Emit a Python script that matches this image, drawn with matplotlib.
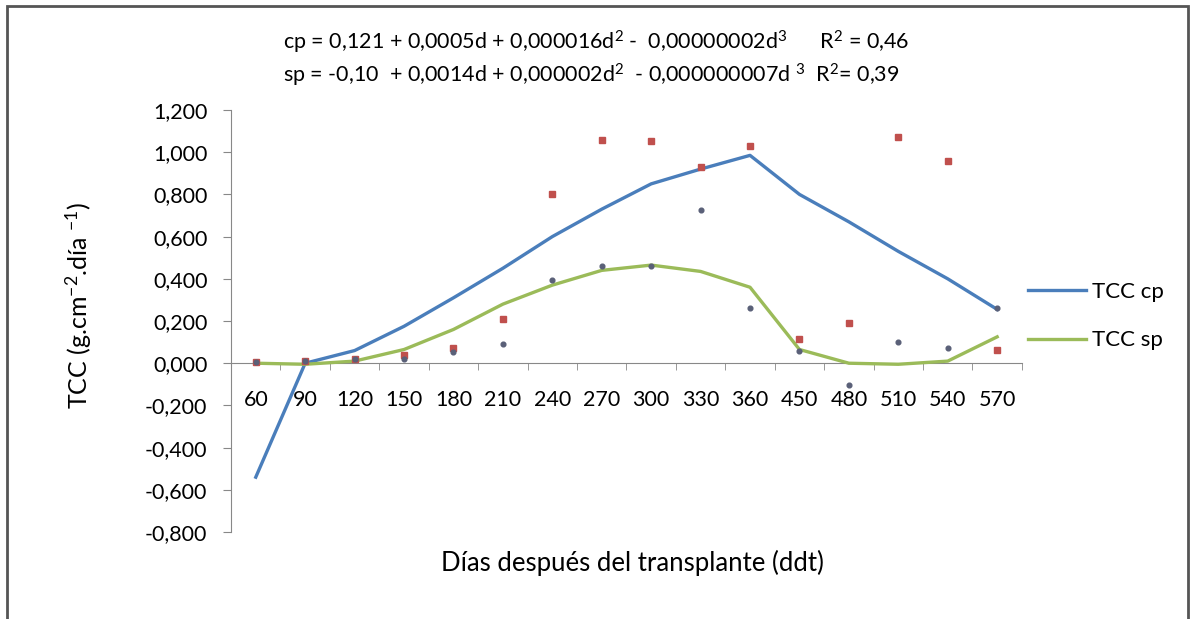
import numpy as np
import matplotlib
matplotlib.use("Agg")
import matplotlib.pyplot as plt
from matplotlib.patches import Rectangle
from matplotlib.ticker import FuncFormatter, FixedLocator

plt.rcParams['font.family'] = ['Lato', 'DejaVu Sans']
plt.rcParams['mathtext.fontset'] = 'custom'
plt.rcParams['mathtext.rm'] = 'Lato'
plt.rcParams['mathtext.it'] = 'Lato'

# dias despues del transplante (categorias)
dias = ['60', '90', '120', '150', '180', '210', '240', '270', '300', '330',
        '360', '450', '480', '510', '540', '570']
# curvas ajustadas
tcc_cp = [-0.54, 0.00, 0.06, 0.175, 0.31, 0.45, 0.60, 0.73, 0.85, 0.92,
          0.985, 0.80, 0.67, 0.53, 0.40, 0.255]
tcc_sp = [0.00, -0.005, 0.01, 0.065, 0.16, 0.28, 0.37, 0.44, 0.465, 0.435,
          0.36, 0.065, 0.00, -0.005, 0.01, 0.125]
# datos observados
obs_cp = [0.005, 0.01, 0.02, 0.04, 0.07, 0.21, 0.80, 1.06, 1.055, 0.93,
          1.03, 0.115, 0.19, 1.07, 0.96, 0.065]
obs_sp = [0.005, 0.01, 0.02, 0.02, 0.055, 0.09, 0.395, 0.46, 0.46, 0.725,
          0.26, 0.06, -0.105, 0.10, 0.07, 0.26]

x = np.arange(len(dias))

fig = plt.figure(figsize=(11.91, 6.19), dpi=100)
ax = fig.add_axes([0.194, 0.1405, 0.664, 0.6818])

line_cp, = ax.plot(x, tcc_cp, color='#4a7ebb', lw=2.4, label='TCC cp', zorder=3)
line_sp, = ax.plot(x, tcc_sp, color='#9bbb59', lw=2.4, label='TCC sp', zorder=3)
ax.plot(x, obs_cp, ls='none', marker='s', ms=4.8, color='#c0504d', zorder=4)
ax.plot(x, obs_sp, ls='none', marker='o', ms=3.4, color='#5a6078', zorder=5)

ax.set_xlim(-0.5, len(dias) - 0.5)
ax.set_ylim(-0.8, 1.2)
ax.set_yticks(np.arange(-0.8, 1.21, 0.2))

def fmt(v, p):
    s = f"{v:.3f}".replace('.', ',')
    return '0,000' if s == '-0,000' else s
ax.yaxis.set_major_formatter(FuncFormatter(fmt))

ax.set_xticks(x)
ax.set_xticklabels(dias)
ax.xaxis.set_minor_locator(FixedLocator(np.arange(0.5, len(dias), 1.0)))
ax.tick_params(axis='x', which='major', length=0, pad=19, labelsize=15.5)
ax.tick_params(axis='x', which='minor', length=5, color='#888888', direction='out')
ax.tick_params(axis='y', length=6, color='#888888', direction='out', labelsize=15.5, pad=11)

for s in ['top', 'right']:
    ax.spines[s].set_visible(False)
ax.spines['bottom'].set_position(('data', 0))
ax.spines['bottom'].set_color('#888888')
ax.spines['left'].set_color('#888888')
ax.set_facecolor('none')

ax.set_xlabel('Días después del transplante (ddt)', fontsize=18.5)
ax.xaxis.set_label_coords(0.507, -0.0735)
ax.xaxis.label.set_va('center')
ax.set_ylabel(r'TCC (g.cm$^{-2}$.día $^{-1}$)', fontsize=18)
ax.yaxis.set_label_coords(-0.193, 0.536)
ax.yaxis.label.set_va('center')

ax.legend(handles=[line_cp, line_sp], loc='center left', bbox_to_anchor=(1.0076, 0.512),
          frameon=False, fontsize=16, handlelength=2.6, handletextpad=0.3,
          labelspacing=1.3, borderaxespad=0, borderpad=0)

fig.text(283 / 1191, 1 - 42 / 619,
         r'cp = 0,121 + 0,0005d + 0,000016d$^{2}$ -  0,00000002d$^{3}$      R$^{2}$ = 0,46',
         fontsize=15.5, ha='left', va='center')
fig.text(283 / 1191, 1 - 75 / 619,
         r'sp = -0,10  + 0,0014d + 0,000002d$^{2}$  - 0,000000007d $^{3}$  R$^{2}$= 0,39',
         fontsize=15.5, ha='left', va='center')

# marco de la figura
fig.add_artist(Rectangle((7 / 1191, -0.1), 1181 / 1191, 1.1 - 6 / 619,
                         transform=fig.transFigure, fill=False, lw=2,
                         edgecolor='#555555', clip_on=False))

plt.savefig('out.png', dpi=100)
